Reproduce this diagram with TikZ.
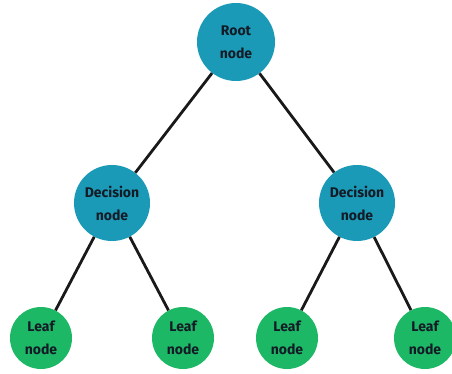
\documentclass[tikz,border=0pt]{standalone}
\usepackage{fontspec}
\setmainfont{Fira Sans}
\begin{document}
\begin{tikzpicture}[x=1pt, y=-1pt,
        decnode/.style={circle, fill=decblue, minimum size=76pt, inner sep=0pt, text=navytext, font=\bfseries\fontsize{14}{23}\selectfont, align=center},
        leafnode/.style={circle, fill=leafgreen, minimum size=62pt, inner sep=0pt, text=navytext, font=\bfseries\fontsize{14}{23}\selectfont, align=center},
        branch/.style={draw=black!90, line width=2.8pt}
    ]
    \definecolor{decblue}{HTML}{1A9AB6}
    \definecolor{leafgreen}{HTML}{1DB865}
    \definecolor{navytext}{HTML}{141B26}
    \useasboundingbox (0,0) rectangle (452,374);
    \node[decnode, minimum size=78pt] (root) at (236,42) {Root\\node};
    \node[decnode] (decL) at (112,203) {Decision\\node};
    \node[decnode] (decR) at (357,203) {Decision\\node};
    \node[leafnode] (leafA) at (41,338) {Leaf\\node};
    \node[leafnode] (leafB) at (183,338) {Leaf\\node};
    \node[leafnode] (leafC) at (287,338) {Leaf\\node};
    \node[leafnode] (leafD) at (425,338) {Leaf\\node};
    \draw[branch] (root) -- (decL);
    \draw[branch] (root) -- (decR);
    \draw[branch] (decL) -- (leafA);
    \draw[branch] (decL) -- (leafB);
    \draw[branch] (decR) -- (leafC);
    \draw[branch] (decR) -- (leafD);
\end{tikzpicture}
\end{document}
